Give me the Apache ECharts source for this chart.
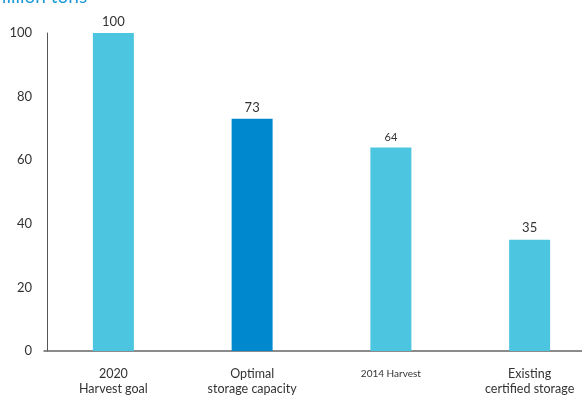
<!DOCTYPE html>
<html><head><meta charset="utf-8">
<script src="https://cdn.jsdelivr.net/npm/echarts@6/dist/echarts.min.js"></script>
<style>html,body{margin:0;padding:0;background:#fff}#c{width:582px;height:396px}</style>
</head><body><div id="c"></div>
<script>
const categories = ['2020\nHarvest goal', 'Optimal\nstorage capacity', '2014 Harvest', 'Existing\ncertified storage'];
const values = [100, 73, 64, 35];
const barColors = ['#4cc5e0', '#0088cf', '#4cc5e0', '#4cc5e0'];
const yTicks = [0, 20, 40, 60, 80, 100];
const titleText = 'Million tons';

const chart = echarts.init(document.getElementById('c'));
const font = 'Lato, "Open Sans", sans-serif';
chart.setOption({
  animation: false,
  title: { text: titleText, left: -16, top: -18, textStyle: { color: '#1e9ad8', fontSize: 19, fontWeight: 'normal', fontFamily: font } },
  grid: { left: 44, right: -17, top: 33, bottom: 45, outerBoundsMode: 'none', containLabel: false },
  xAxis: {
    type: 'category', data: categories,
    axisLine: { lineStyle: { color: '#666', width: 1.5 } },
    axisTick: { show: false },
    axisLabel: {
      color: '#333', fontSize: 12.5, fontFamily: font, margin: 15, lineHeight: 15, interval: 0,
      formatter: function (v) { return v === '2014 Harvest' ? '{s|' + v + '}' : v; },
      rich: { s: { fontSize: 10, color: '#333', fontFamily: font } }
    }
  },
  yAxis: {
    type: 'value', min: yTicks[0], max: yTicks[yTicks.length - 1], interval: 20, offset: -3,
    axisLine: { show: true, lineStyle: { color: '#555', width: 1 } },
    axisTick: { show: false },
    splitLine: { show: false },
    axisLabel: { color: '#333', fontSize: 13, fontFamily: font, margin: 15 }
  },
  series: [{
    type: 'bar', barWidth: 41,
    data: values.map((v, i) => ({
      value: v,
      itemStyle: { color: barColors[i] },
      label: { fontSize: i === 2 ? 11 : 13 }
    })),
    label: { show: true, position: 'top', distance: 5, color: '#333', fontFamily: font }
  }]
});
</script></body></html>
